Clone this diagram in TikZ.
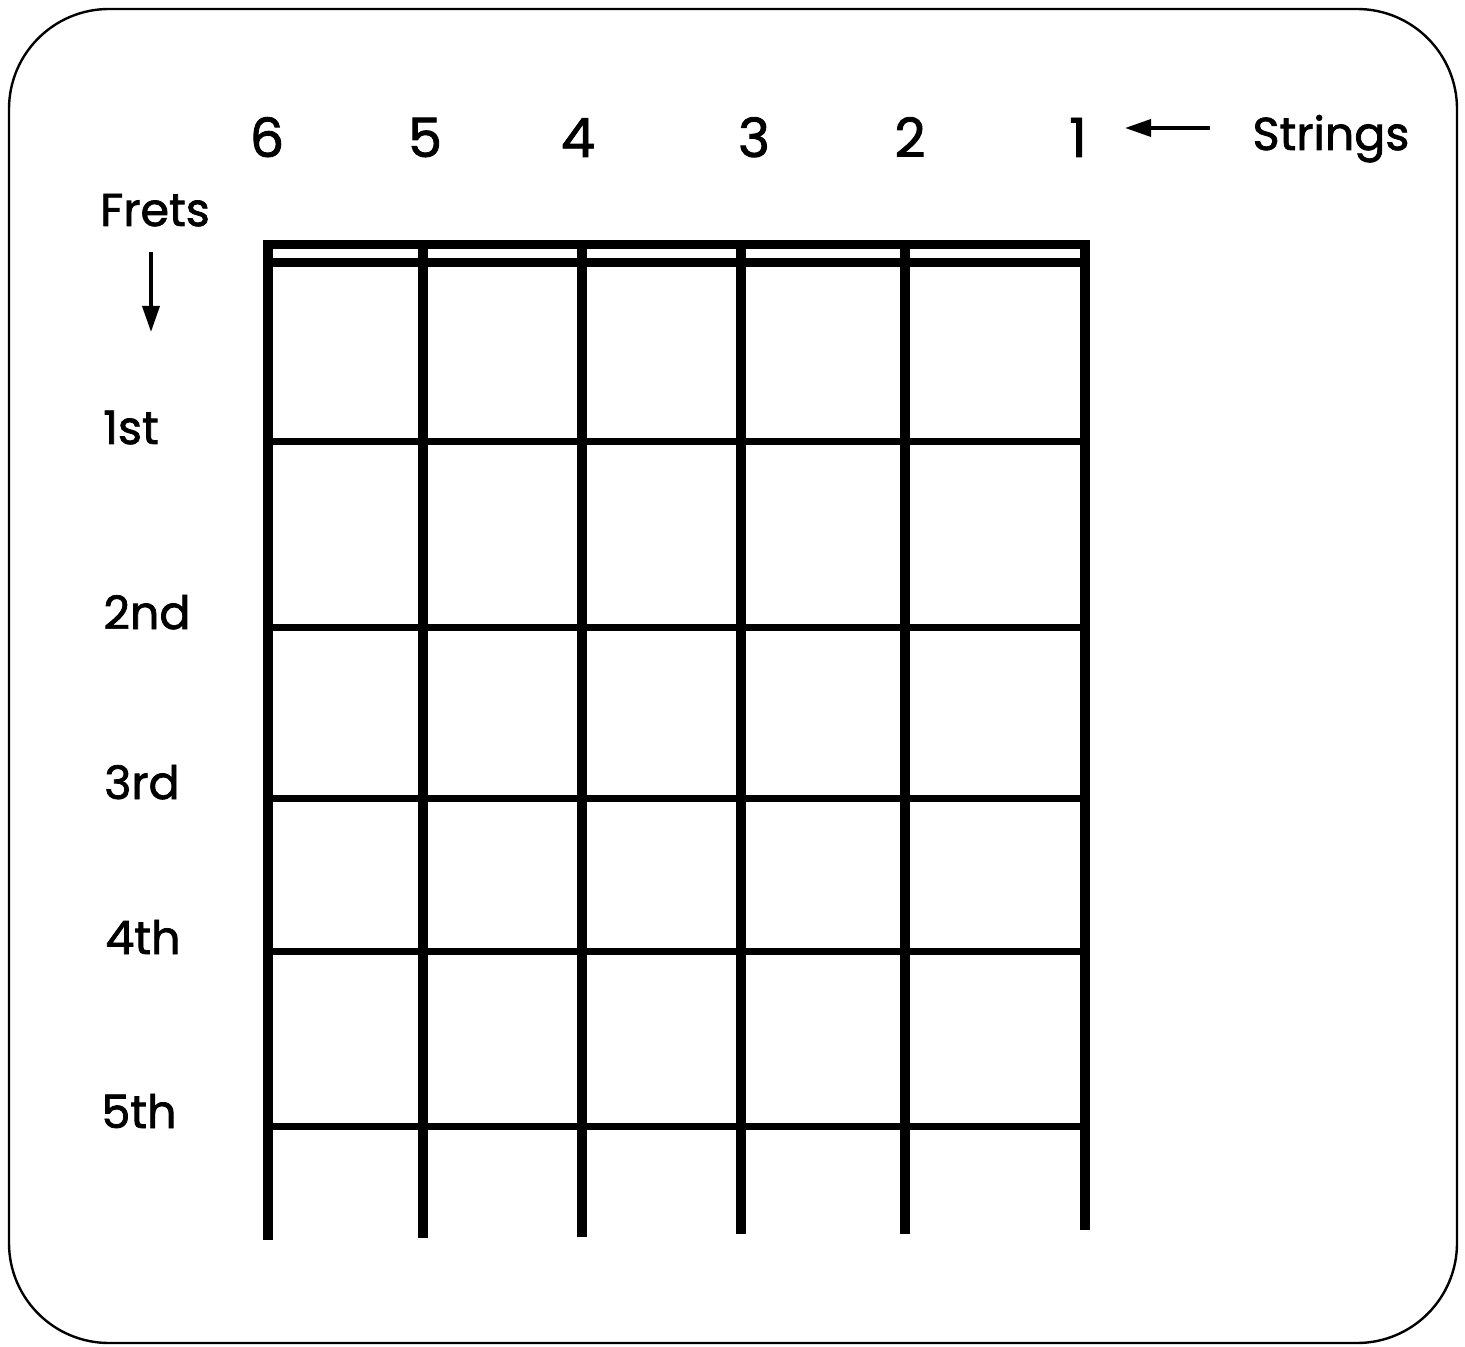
\documentclass[tikz,border=0pt]{standalone}
\usepackage{fontspec}
\setmainfont{Poppins}[FakeBold=1.6]
\usetikzlibrary{arrows.meta}
\begin{document}
\begin{tikzpicture}[x=0.5pt,y=-0.5pt,
  numlbl/.style={font=\fontsize{27}{30}\selectfont, inner sep=0pt, anchor=base},
  wordlbl/.style={font=\fontsize{23}{28}\selectfont, inner sep=0pt, anchor=base},
  stringline/.style={line width=5pt},
  fretline/.style={line width=3.5pt},
  nutline/.style={line width=4.5pt},
  pointer/.style={line width=1.8pt,-{Triangle[length=13pt,width=8.5pt]}}]
\useasboundingbox (0,0) rectangle (1465,1347);
\draw[line width=1.2pt, rounded corners=50pt] (9,9) rectangle (1457,1343);
% strings
\foreach \x/\e in {268/1240,423/1238,582/1237,741/1234,905/1234,1085/1230}
  \draw[stringline] (\x,241) -- (\x,\e);
% nut
\draw[nutline] (263,245) -- (1090,245);
\draw[nutline] (268,263) -- (1085,263);
% frets
\foreach \y in {442,627,798,951,1126}
  \draw[fretline] (268,\y) -- (1085,\y);
% string numbers
\node[numlbl] (n6) at (267,157) {6};
\node[numlbl] (n5) at (425,157) {5};
\node[numlbl] (n4) at (578,157) {4};
\node[numlbl] (n3) at (754,157) {3};
\node[numlbl] (n2) at (910,157) {2};
\node[numlbl] (n1) at (1078,157) {1};
\node[wordlbl] (strings) at (1331,150) {Strings};
\coordinate (sa) at (1210,128);
\coordinate (sb) at (1125,128);
\draw[pointer] (sa) -- (sb);
% frets labels
\node[wordlbl] (frets) at (155,226) {Frets};
\coordinate (fa) at (151,252);
\coordinate (fb) at (151,332);
\draw[pointer] (fa) -- (fb);
\node[wordlbl] (f1) at (131,444) {1st};
\node[wordlbl] (f2) at (147,629) {2nd};
\node[wordlbl] (f3) at (142,799) {3rd};
\node[wordlbl] (f4) at (143,954) {4th};
\node[wordlbl] (f5) at (139,1128) {5th};
\end{tikzpicture}
\end{document}
